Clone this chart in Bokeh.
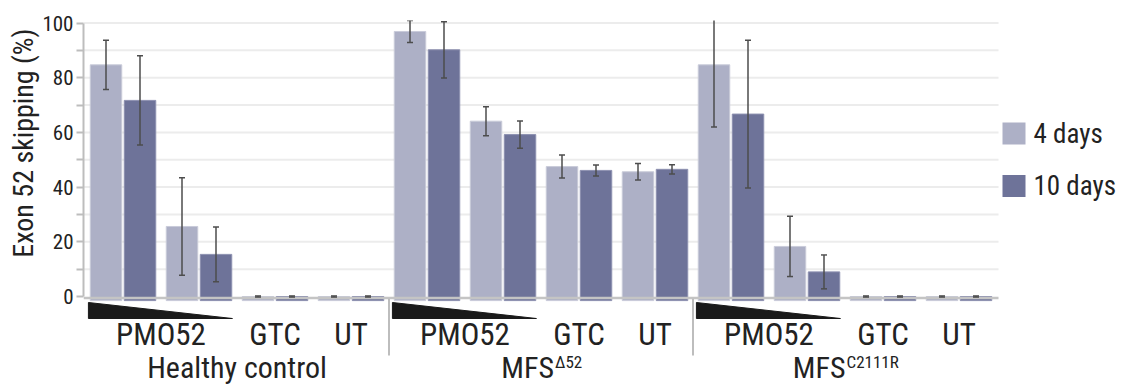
from bokeh.plotting import figure
from bokeh.models import Range1d, FixedTicker, Title
from bokeh.core.properties import value
from bokeh.embed import file_html
from bokeh.resources import INLINE

# ---------------- data ----------------
groups = ["Healthy control", "MFS", "MFS"]
group_sup = ["", "\u039452", "C2111R"]
treatments = ["PMO52", "PMO52", "GTC", "UT"]   # per group, PMO52 high / low dose
series = ["4 days", "10 days"]
skip_4d = [84.7, 25.6, 0.0, 0.0, 96.9, 64.1, 47.5, 45.6, 84.7, 18.3, 0.0, 0.0]
err_4d = [9.0, 17.8, 0.2, 0.2, 4.0, 5.3, 4.2, 3.0, 22.7, 11.0, 0.2, 0.2]
skip_10d = [71.7, 15.4, 0.0, 0.0, 90.2, 59.2, 46.1, 46.5, 66.7, 9.0, 0.0, 0.0]
err_10d = [16.3, 10.0, 0.2, 0.2, 10.3, 5.0, 2.0, 1.7, 27.0, 6.2, 0.2, 0.2]
y_ticks = [0, 20, 40, 60, 80, 100]
y_minor = [10, 30, 50, 70, 90]

# ---------------- style ----------------
FONT = "Roboto Condensed"
C4 = "#adb0c6"
C10 = "#6e7399"
TXT = "#222222"
AX = "#bdbdbd"
GRID = "#ececec"
PX = 76.0      # px per condition
PY = 2.735     # px per percent
X0 = 122.5     # px of first condition centre
Y0 = 296.0     # px of zero line
W, H = 1130, 385


def dx(px):
    return (px - X0) / PX


def dy(py):
    return (Y0 - py) / PY


n = len(skip_4d)
per = len(treatments)
xs = list(range(n))
off = 17.0 / PX
bw = 31.5 / PX
bar_bottom = -1.5

p = figure(width=W, height=H, output_backend="svg", toolbar_location=None,
           x_range=Range1d(dx(83), dx(W)), y_range=Range1d(dy(H), dy(20)),
           x_axis_location=None, min_border_left=83, min_border_right=0,
           min_border_top=20, min_border_bottom=0)
p.outline_line_color = None
p.xgrid.visible = False
p.ygrid.visible = False
p.background_fill_color = "white"

# gridlines (only over the plotting area)
x_left = dx(83)
x_right = dx(998)
gl = sorted(y_ticks[1:] + y_minor)
p.segment(x0=[x_left] * len(gl), x1=[x_right] * len(gl), y0=gl, y1=gl,
          line_color=GRID, line_width=2)

# bars
x4 = [x - off for x in xs]
x10 = [x + off for x in xs]
p.vbar(x=x4, top=skip_4d, bottom=bar_bottom, width=bw, fill_color=C4,
       line_color="#c9cbd9", line_width=1)
p.vbar(x=x10, top=skip_10d, bottom=bar_bottom, width=bw, fill_color=C10,
       line_color="#8d90b0", line_width=1)

# baseline
p.segment(x0=[x_left], x1=[x_right], y0=[-0.55], y1=[-0.55], line_color="#c4c4c4", line_width=2.5)

# error bars
cap = 3.0 / PX
for xc, v, e in [(x4, skip_4d, err_4d), (x10, skip_10d, err_10d)]:
    lo = [a - b for a, b in zip(v, e)]
    hi = [a + b for a, b in zip(v, e)]
    p.segment(x0=xc, x1=xc, y0=lo, y1=hi, line_color="#4d4d4d", line_width=1.5)
    p.segment(x0=[x - cap for x in xc], x1=[x + cap for x in xc], y0=hi, y1=hi,
              line_color="#4d4d4d", line_width=1.5)
    p.segment(x0=[x - cap for x in xc], x1=[x + cap for x in xc], y0=lo, y1=lo,
              line_color="#4d4d4d", line_width=1.5)

# dose wedges under PMO52 pairs
tri_x, tri_y = [], []
for g in range(len(groups)):
    idx = [g * per + k for k, t in enumerate(treatments) if t == "PMO52"]
    a = min(idx) - 0.455
    b = max(idx) + 0.44
    tri_x.append([a, a, b])
    tri_y.append([dy(302), dy(318), dy(318)])
p.patches(tri_x, tri_y, fill_color="#1a1a1a", line_color="#1a1a1a")

# separators between groups
seps = [g * per - 0.5 for g in range(1, len(groups))]
p.segment(x0=seps, x1=seps, y0=[dy(298)] * len(seps), y1=[dy(355)] * len(seps),
          line_color=AX, line_width=2)

# treatment labels
lab_x, lab_t = [], []
for g in range(len(groups)):
    seen = []
    for t in treatments:
        if t in seen:
            continue
        seen.append(t)
        idx = [g * per + k for k, tt in enumerate(treatments) if tt == t]
        lab_x.append(sum(idx) / len(idx))
        lab_t.append(t)
p.text(x=lab_x, y=[dy(333.5)] * len(lab_x), text=lab_t, text_align="center",
       text_baseline="middle", text_font=value(FONT), text_font_size="31px",
       text_color=TXT)

# group labels (with superscripts)
main_w = {"Healthy control": 180.0, "MFS": 54.0}
sup_w = {"": 0.0, "\u039452": 28.0, "C2111R": 53.0}
for g, (name, sup) in enumerate(zip(groups, group_sup)):
    cx = g * per + (per - 1) / 2.0
    total = main_w[name] + sup_w[sup]
    right = cx + (main_w[name] - total / 2.0) / PX
    p.text(x=[right], y=[dy(366.5)], text=[name], text_align="right",
           text_baseline="middle", text_font=value(FONT), text_font_size="30px",
           text_color=TXT)
    if sup:
        p.text(x=[right + 1.0 / PX], y=[dy(361.5)], text=[sup], text_align="left",
               text_baseline="middle", text_font=value(FONT), text_font_size="17px",
               text_color=TXT)

# legend (manual, right of plot)
leg_cols = [C4, C10]
lx = dx(1013.5)
p.rect(x=[lx, lx], y=[dy(133), dy(185.5)], width=23 / PX, height=22 / PY,
       fill_color=leg_cols, line_color=None)
p.text(x=[dx(1033)] * 2, y=[dy(133), dy(185)], text=series,
       text_align="left", text_baseline="middle", text_font=value(FONT),
       text_font_size="27px", text_color=TXT)

# y axis
ax = p.yaxis[0]
ax.ticker = FixedTicker(ticks=y_ticks, minor_ticks=y_minor)
ax.bounds = (0, 100)
ax.axis_line_color = AX
ax.axis_line_width = 2
ax.major_tick_line_color = AX
ax.minor_tick_line_color = AX
ax.major_tick_line_width = 2
ax.minor_tick_line_width = 2
ax.major_tick_in = 0
ax.major_tick_out = 7
ax.minor_tick_in = 0
ax.minor_tick_out = 7
ax.major_label_standoff = 3
ax.major_label_text_font = FONT
ax.major_label_text_font_size = "21px"
ax.major_label_text_color = TXT

ytitle = Title(text="Exon 52 skipping (%)", align="right", offset=8, text_font=FONT,
               text_font_size="28px", text_font_style="normal", text_color=TXT, standoff=0)
p.add_layout(ytitle, "left")

open("out.html", "w").write(file_html(p, INLINE))
